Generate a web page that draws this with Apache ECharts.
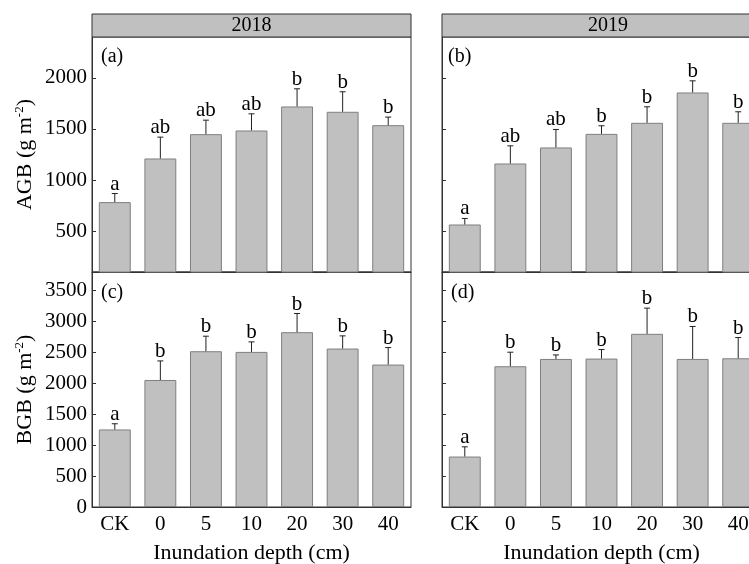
<!DOCTYPE html>
<html>
<head>
<meta charset="utf-8">
<script src="https://cdn.jsdelivr.net/npm/echarts@6/dist/echarts.min.js"></script>
<style>
html,body{margin:0;padding:0;background:#fff;}
#c{width:749px;height:564px;}
</style>
</head>
<body>
<div id="c"></div>
<script>
// ---- data ----
const categories = ['CK', '0', '5', '10', '20', '30', '40'];
const agb2018 = [784, 1211, 1449, 1485, 1720, 1668, 1537];
const agb2018Err = [84, 209, 137, 163, 173, 196, 79];
const agb2018Letters = ['a', 'ab', 'ab', 'ab', 'b', 'b', 'b'];
const agb2019 = [565, 1162, 1319, 1452, 1560, 1857, 1560];
const agb2019Err = [59, 173, 176, 79, 157, 114, 108];
const agb2019Letters = ['a', 'ab', 'ab', 'b', 'b', 'b', 'b'];
const bgb2018 = [1254, 2054, 2519, 2508, 2827, 2562, 2303];
const bgb2018Err = [92, 308, 243, 162, 302, 205, 275];
const bgb2018Letters = ['a', 'b', 'b', 'b', 'b', 'b', 'b'];
const bgb2019 = [816, 2276, 2394, 2400, 2800, 2394, 2405];
const bgb2019Err = [157, 227, 65, 146, 416, 525, 335];
const bgb2019Letters = ['a', 'b', 'b', 'b', 'b', 'b', 'b'];
const agbTicks = [500, 1000, 1500, 2000];
const bgbTicks = [0, 500, 1000, 1500, 2000, 2500, 3000, 3500];
const years = ['2018', '2019'];
const panelTags = ['(a)', '(b)', '(c)', '(d)'];

const FONT = '"Liberation Serif", "Times New Roman", serif';
const chart = echarts.init(document.getElementById('c'), null, {renderer: 'canvas'});

const grids = [
  {left: 92, top: 37, width: 319, height: 235},
  {left: 442, top: 37, width: 319, height: 235},
  {left: 92, top: 272, width: 319, height: 235},
  {left: 442, top: 272, width: 319, height: 235}
].map(g => Object.assign(g, {show: true, borderColor: '#333', borderWidth: 1, backgroundColor: 'transparent', containLabel: false, outerBoundsMode: 'none'}));

function xAxis(gi, showLabel) {
  return {
    type: 'category', gridIndex: gi, data: categories,
    axisLine: {lineStyle: {color: '#333', width: 1}},
    axisTick: {inside: true, alignWithLabel: true, length: 4, lineStyle: {color: '#333'}},
    axisLabel: {show: showLabel, color: '#000', fontSize: 21, fontFamily: FONT, margin: 7},
    name: showLabel ? 'Inundation depth (cm)' : '',
    nameLocation: 'middle', nameGap: 35,
    nameTextStyle: {color: '#000', fontSize: 22, fontFamily: FONT}
  };
}
function yAxis(gi, min, max, ticks, showLabel, nameStr) {
  return {
    type: 'value', gridIndex: gi, min: min, max: max,
    splitLine: {show: false},
    axisLine: {show: true, lineStyle: {color: '#333', width: 1}},
    axisTick: {show: true, inside: true, length: 4, lineStyle: {color: '#333'}, customValues: ticks},
    axisLabel: {show: showLabel, color: '#000', fontSize: 21, fontFamily: FONT, margin: 5, customValues: ticks,
      formatter: v => String(v)},
    name: nameStr ? '{n|' + nameStr + ' (g m}{s|-2}{n|)}' : '',
    nameLocation: 'middle', nameGap: 55,
    nameTextStyle: {
      color: '#000', fontFamily: FONT, fontSize: 22,
      rich: {
        n: {fontSize: 22, fontFamily: FONT, color: '#000'},
        s: {fontSize: 13, fontFamily: FONT, color: '#000', verticalAlign: 'top', padding: [0, 0, 11, 0]}
      }
    }
  };
}

function errRender(errs, letters) {
  return function (params, api) {
    const i = api.value(0), m = api.value(1), e = errs[params.dataIndex];
    const p0 = api.coord([i, m]);
    const p1 = api.coord([i, m + e]);
    return {
      type: 'group',
      children: [
        {type: 'line', shape: {x1: p0[0], y1: p0[1], x2: p1[0], y2: p1[1]}, style: {stroke: '#222', lineWidth: 1}},
        {type: 'line', shape: {x1: p1[0] - 3, y1: p1[1], x2: p1[0] + 3, y2: p1[1]}, style: {stroke: '#222', lineWidth: 1}},
        {type: 'text', x: p1[0], y: p1[1] + 1, style: {text: letters[params.dataIndex], fill: '#000', font: '21px ' + FONT, textAlign: 'center', textVerticalAlign: 'bottom'}}
      ]
    };
  };
}

const panels = [
  {vals: agb2018, errs: agb2018Err, letters: agb2018Letters},
  {vals: agb2019, errs: agb2019Err, letters: agb2019Letters},
  {vals: bgb2018, errs: bgb2018Err, letters: bgb2018Letters},
  {vals: bgb2019, errs: bgb2019Err, letters: bgb2019Letters}
];

const series = [];
panels.forEach((p, gi) => {
  series.push({
    type: 'bar', xAxisIndex: gi, yAxisIndex: gi, data: p.vals, barWidth: '70%',
    itemStyle: {color: '#c0c0c0', borderColor: '#7f7f7f', borderWidth: 1},
    silent: true, animation: false
  });
  series.push({
    type: 'custom', xAxisIndex: gi, yAxisIndex: gi,
    data: p.vals.map((v, i) => [i, v]),
    encode: {x: 0, y: 1},
    renderItem: errRender(p.errs, p.letters),
    z: 5, silent: true, animation: false
  });
});

const graphics = [];
[[92, 251.5, years[0]], [442, 608, years[1]]].forEach(h => {
  graphics.push({type: 'rect', shape: {x: h[0], y: 14, width: 319, height: 23}, style: {fill: '#c0c0c0', stroke: '#333', lineWidth: 1}, z: 10});
  graphics.push({type: 'text', x: h[1], y: 26, style: {text: h[2], fill: '#000', font: '20px ' + FONT, textAlign: 'center', textVerticalAlign: 'middle'}, z: 11});
});
[[101, 57], [448, 57], [101, 293], [451, 293]].forEach((pos, i) => {
  graphics.push({type: 'text', x: pos[0], y: pos[1], style: {text: panelTags[i], fill: '#000', font: '20px ' + FONT, textAlign: 'left', textVerticalAlign: 'middle'}, z: 11});
});

chart.setOption({
  animation: false,
  textStyle: {fontFamily: FONT},
  grid: grids,
  xAxis: [xAxis(0, false), xAxis(1, false), xAxis(2, true), xAxis(3, true)],
  yAxis: [
    yAxis(0, 100, 2400, agbTicks, true, 'AGB'),
    yAxis(1, 100, 2400, agbTicks, false, ''),
    yAxis(2, 0, 3800, bgbTicks, true, 'BGB'),
    yAxis(3, 0, 3800, bgbTicks, false, '')
  ],
  series: series,
  graphic: graphics
});
</script>
</body>
</html>
